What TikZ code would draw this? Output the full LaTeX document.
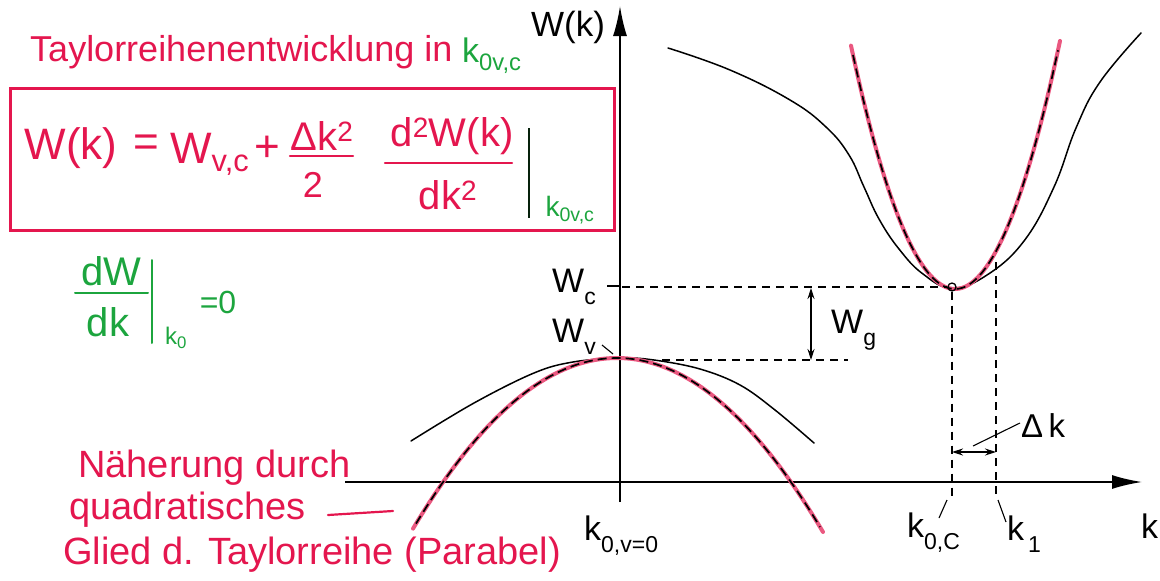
\documentclass[tikz,border=0pt]{standalone}
\usepackage{fontspec}
\setmainfont{Liberation Sans}
\usetikzlibrary{arrows.meta}
\definecolor{redhand}{RGB}{228,22,78}
\definecolor{pinkc}{RGB}{234,88,128}
\definecolor{greenhand}{RGB}{28,165,62}
\newcommand\lsub[1]{\raisebox{-0.36em}{\fontsize{23}{26}\selectfont #1}}
\tikzset{
  axisline/.style={line width=1.8pt},
  bigtip/.style={-{Latex[length=30pt,width=14pt]}},
  curve/.style={line width=1.5pt, line cap=round},
  pinkcurve/.style={line width=4pt, color=pinkc, line cap=round},
  dashcurve/.style={line width=1.7pt, dash pattern=on 9pt off 5pt},
  helper/.style={line width=1.3pt, dash pattern=on 8pt off 6pt},
  leader/.style={line width=1.1pt},
  dimarrow/.style={line width=1.2pt, {Stealth[length=11pt,width=7pt]}-{Stealth[length=11pt,width=7pt]}},
  lbl/.style={inner sep=0pt, font=\fontsize{34}{40}\selectfont, anchor=base west},
  hand/.style={inner sep=0pt, text=redhand},
  greenh/.style={inner sep=0pt, text=greenhand},
  handline/.style={line width=2.2pt, color=redhand, line cap=round},
  greenline/.style={line width=2pt, color=greenhand, line cap=round},
}
\begin{document}
\begin{tikzpicture}[x=1pt,y=-1pt]
\path[use as bounding box] (0,0) rectangle (1160,581);

% ---------- handwritten title and formula ----------
\node[hand, anchor=west, font=\fontsize{36}{42}\selectfont] (title) at (30,52) {Taylorreihenentwicklung in};
\node[greenh, anchor=west, font=\fontsize{34}{40}\selectfont] (titlek) at (462,56) {k\textsubscript{0v,c}};

\node[draw=redhand, line width=3pt, minimum width=604pt, minimum height=142pt, inner sep=0pt] (box) at (312,159) {};

\node[hand, font=\fontsize{44}{50}\selectfont] (Wk) at (71,148) {W(k)};
\node[hand, font=\fontsize{44}{50}\selectfont] (eq) at (146,146) {=};
\node[hand, anchor=base west, font=\fontsize{44}{50}\selectfont] (Wvc) at (170,163) {W\textsubscript{v,c}};
\node[hand, font=\fontsize{44}{50}\selectfont] (plus) at (267,149) {+};
\node[hand, font=\fontsize{40}{46}\selectfont] (num1) at (322,136) {Δk\textsuperscript{2}};
\coordinate (b1l) at (290,156); \coordinate (b1r) at (353,156);
\draw[handline] (b1l) -- (b1r);
\node[hand, font=\fontsize{36}{42}\selectfont] (den1) at (313,185) {2};
\node[hand, font=\fontsize{40}{46}\selectfont] (num2) at (452,136) {d\textsuperscript{2}W(k)};
\coordinate (b2l) at (385,163); \coordinate (b2r) at (512,163);
\draw[handline] (b2l) -- (b2r);
\node[hand, font=\fontsize{40}{46}\selectfont] (den2) at (448,195) {dk\textsuperscript{2}};
\coordinate (vb1) at (529,128); \coordinate (vb2) at (529,218);
\draw[line width=2.2pt, color=black!80!greenhand] (vb1) -- (vb2);
\node[greenh, font=\fontsize{28}{32}\selectfont] (sub) at (570,210) {k\textsubscript{0v,c}};

% ---------- green derivative ----------
\node[greenh, font=\fontsize{40}{46}\selectfont] (dW) at (111,271) {dW};
\coordinate (g1l) at (75,293); \coordinate (g1r) at (148,293);
\draw[greenline] (g1l) -- (g1r);
\node[greenh, font=\fontsize{40}{46}\selectfont] (dk) at (108,322) {dk};
\coordinate (gv1) at (152,260); \coordinate (gv2) at (152,343);
\draw[greenline] (gv1) -- (gv2);
\node[greenh, font=\fontsize{24}{28}\selectfont] (k0) at (176,338) {k\textsubscript{0}};
\node[greenh, font=\fontsize{32}{38}\selectfont] (eq0) at (218,302) {=0};

% ---------- handwritten note bottom left ----------
\node[hand, anchor=west, font=\fontsize{38}{44}\selectfont] (n1) at (78,468) {Näherung durch};
\node[hand, anchor=west, font=\fontsize{38}{44}\selectfont] (n2) at (69,510) {quadratisches};
\coordinate (d1) at (328,515); \coordinate (d2) at (393,511);
\draw[handline] (d1) -- (d2);
\node[hand, anchor=west, font=\fontsize{38}{44}\selectfont] (n3) at (63,555) {Glied d. Taylorreihe (Parabel)};

% ---------- axes ----------
\coordinate (vbot) at (620,502);
\coordinate (vtop) at (620,6);
\coordinate (hleft) at (345,482);
\coordinate (hright) at (1142,482);
\draw[axisline, bigtip] (vbot) -- (vtop);
\draw[axisline, bigtip] (hleft) -- (hright);
\node[lbl, font=\fontsize{35}{40}\selectfont] (Wlab) at (531,36) {W(k)};
\node[lbl] (klab) at (1141,538) {k};

% ---------- valence band ----------
\draw[curve] plot[smooth, tension=0.6] coordinates {(411,441) (474,403) (534,373) (573,362) (620,358) (654,360) (700,369) (740,385) (775,410) (814,443)};
\draw[pinkcurve] plot[domain=413:823, samples=80] (\x, {358+41*((\x-617)/100)^2});
\draw[dashcurve] plot[domain=416:820, samples=80] (\x, {358+41*((\x-617)/100)^2});

% ---------- conduction band ----------
\draw[curve] plot[smooth, tension=0.7] coordinates {(668,48) (730,70) (790,100) (826,127) (849,155) (864,187) (879,219) (899,249) (923,274) (952,288) (987,275) (1024,241) (1054,187) (1076,128) (1100,82) (1141,33)};
\draw[pinkcurve] plot[domain=851:1060, samples=80] (\x, {289-22.5*((\x-955)/31.623)^2});
\draw[dashcurve] plot[domain=853:1058, samples=80] (\x, {289-22.5*((\x-955)/31.623)^2});
\node[circle, draw, line width=1.3pt, inner sep=0pt, minimum size=8pt] (cmin) at (952,287) {};

% ---------- helper lines ----------
\coordinate (wct1) at (607,286); \coordinate (wct2) at (620,286);
\draw[leader] (wct1) -- (wct2);
\coordinate (wcd) at (622,287);
\draw[helper] (wcd) -- (cmin.west);
\coordinate (wv1) at (662,360); \coordinate (wv2) at (848,360);
\draw[helper] (wv1) -- (wv2);
\coordinate (k0cb) at (952,497);
\draw[helper] (cmin.south) -- (k0cb);
\coordinate (k1t) at (996,262); \coordinate (k1b) at (996,497);
\draw[helper] (k1t) -- (k1b);

% ---------- W_g ----------
\coordinate (wg1) at (811,288); \coordinate (wg2) at (811,360);
\draw[dimarrow] (wg1) -- (wg2);
\node[lbl] (Wg) at (831,333) {W\lsub{g}};

% ---------- Delta k ----------
\coordinate (dk1) at (952,452); \coordinate (dk2) at (996,452);
\draw[dimarrow] (dk1) -- (dk2);
\node[lbl, font=\fontsize{33}{38}\selectfont] (Dk) at (1021,437) {Δ\,k};
\coordinate (dka) at (1020,423); \coordinate (dkl) at (973,446);
\draw[leader] (dka) -- (dkl);

% ---------- level labels ----------
\node[lbl] (Wc) at (552,292) {W\lsub{c}};
\node[lbl] (Wv) at (552,342) {W\lsub{v}};
\coordinate (wvl1) at (602,345); \coordinate (wvl2) at (613,354);
\draw[leader] (wvl1) -- (wvl2);

% ---------- k labels ----------
\node[lbl] (k0v) at (584,540) {k\lsub{0,v=0}};
\node[lbl] (k0c) at (907,537) {k\lsub{0,C}};
\node[lbl] (k1) at (1007,540) {k\lsub{\,1}};
\coordinate (l1a) at (947,500); \coordinate (l1b) at (939,518);
\draw[leader] (l1a) -- (l1b);
\coordinate (l2a) at (998,500); \coordinate (l2b) at (1006,522);
\draw[leader] (l2a) -- (l2b);
\end{tikzpicture}
\end{document}
